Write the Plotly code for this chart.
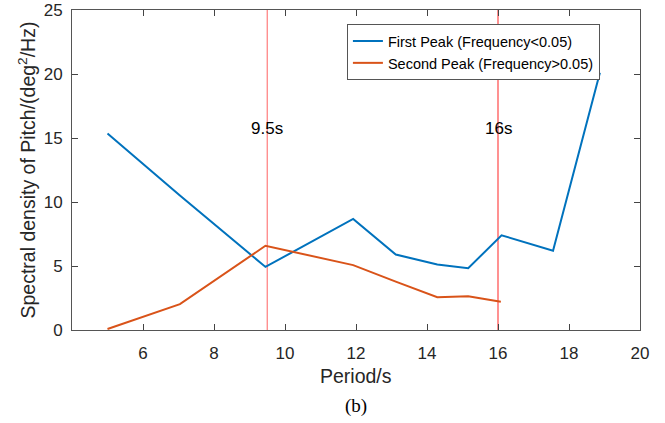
import plotly.graph_objects as go

first_x = [5.0, 7.04, 9.45, 11.92, 13.12, 14.29, 15.16, 16.1, 17.55, 18.87]
first_y = [15.35, 10.5, 4.93, 8.68, 5.9, 5.12, 4.82, 7.4, 6.2, 20.1]
second_x = [5.0, 7.04, 9.45, 11.92, 13.12, 14.29, 15.16, 16.08]
second_y = [0.08, 2.02, 6.58, 5.07, 3.78, 2.56, 2.64, 2.2]
marker_periods = [9.5, 16]
marker_labels = ["9.5s", "16s"]
x_ticks = [6, 8, 10, 12, 14, 16, 18, 20]
y_ticks = [0, 5, 10, 15, 20, 25]

FONT = "Liberation Sans, Arial, Helvetica, sans-serif"
TXT = "#262626"

fig = go.Figure()
fig.add_trace(go.Scatter(x=first_x, y=first_y, mode="lines",
                         name="First Peak (Frequency<0.05)",
                         line=dict(color="#0072BD", width=2)))
fig.add_trace(go.Scatter(x=second_x, y=second_y, mode="lines",
                         name="Second Peak (Frequency>0.05)",
                         line=dict(color="#D95319", width=2)))

line_colors = ["rgba(255,100,100,0.85)", "rgba(255,40,40,0.85)"]
for p, lab, c in zip(marker_periods, marker_labels, line_colors):
    fig.add_shape(type="line", xref="x", yref="paper", x0=p, x1=p, y0=0, y1=1,
                  line=dict(color=c, width=1.2), layer="below")
    fig.add_annotation(x=p, y=15.75, xref="x", yref="y", text=lab, showarrow=False,
                       font=dict(family=FONT, size=17, color="black"))

# axis titles and caption
fig.add_annotation(x=0.5, y=-0.145, xref="paper", yref="paper", text="Period/s",
                   showarrow=False, yanchor="middle",
                   font=dict(family=FONT, size=19.5, color=TXT))
fig.add_annotation(x=-0.08, y=0.5, xref="paper", yref="paper",
                   text="Spectral density of Pitch/(deg<sup>2</sup>/Hz)",
                   textangle=-90, showarrow=False, xanchor="center", yanchor="middle",
                   font=dict(family=FONT, size=19.5, color=TXT))
fig.add_annotation(x=0.5, y=-0.236, xref="paper", yref="paper", text="(b)",
                   showarrow=False, yanchor="middle",
                   font=dict(family="Liberation Serif, Times New Roman, serif", size=19, color="black"))

axis_common = dict(showline=True, linecolor="#555", linewidth=1, mirror="ticks",
                   ticks="inside", ticklen=6, tickcolor="#444", showgrid=False,
                   zeroline=False, automargin=False,
                   tickfont=dict(family=FONT, size=17, color=TXT))

fig.update_layout(
    width=665, height=423,
    margin=dict(l=72, r=25, t=10, b=93),
    paper_bgcolor="white", plot_bgcolor="white",
    font=dict(family=FONT),
    xaxis=dict(range=[4, 20], tickvals=x_ticks, ticklabelstandoff=8, **axis_common),
    yaxis=dict(range=[0, 25], tickvals=y_ticks, ticklabelstandoff=5, **axis_common),
    legend=dict(x=0.484, y=0.956, xanchor="left", yanchor="top",
                bgcolor="white", bordercolor="#555", borderwidth=1,
                font=dict(family=FONT, size=14.5, color="black"), tracegroupgap=0),
    showlegend=True,
)

fig.write_html("out.html", config={"displayModeBar": False},
               post_script="document.body.style.margin='0';document.body.style.padding='0';")
